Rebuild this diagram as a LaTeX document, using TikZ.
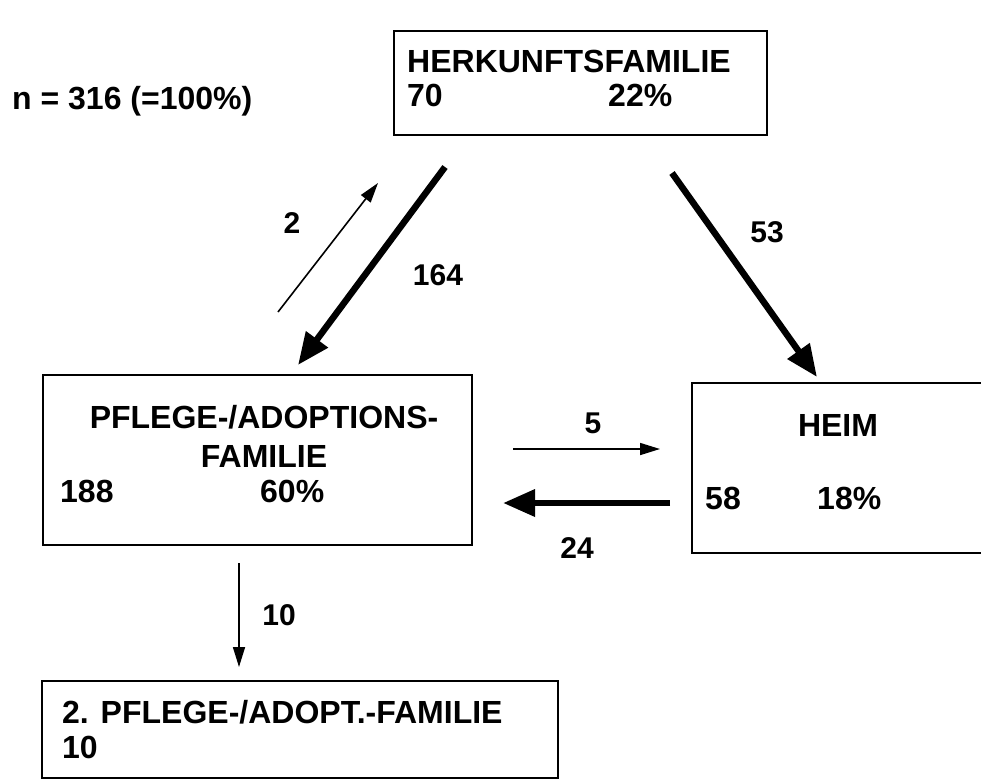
\documentclass[tikz,border=0pt]{standalone}
\usepackage{fontspec}
\setmainfont{Liberation Sans}
\usetikzlibrary{arrows.meta}
\tikzset{
    box/.style={draw=black,line width=2pt,rectangle,inner sep=0pt},
    txt/.style={font=\bfseries\fontsize{32}{36}\selectfont,inner sep=0pt},
    lbl/.style={font=\bfseries\fontsize{30}{34}\selectfont,inner sep=0pt},
    thinarr/.style={line width=1.6pt,-{Triangle[length=20pt,width=12pt]}},
    thickarr/.style={line width=6.5pt,-{Triangle[length=32pt,width=26pt]}}
}
\begin{document}
\begin{tikzpicture}[x=1pt,y=-1pt]
    \useasboundingbox (0,0) rectangle (981,780);
    \clip (0,0) rectangle (981,780);
    \fill[white] (0,0) rectangle (981,780);

    \node[box,minimum width=373pt,minimum height=104pt] (herkunft) at (580.5,83) {};
    \node[box,minimum width=429pt,minimum height=170pt] (pflege) at (257.5,460) {};
    \node[box,minimum width=320pt,minimum height=170pt] (heim) at (852,468) {};
    \node[box,minimum width=516pt,minimum height=97pt] (zweite) at (300,729.5) {};

    \node[txt,anchor=base west] (herkunfttitel) at (407,72) {HERKUNFTSFAMILIE};
    \node[txt,anchor=base west] (herkunftn) at (407,106) {70};
    \node[txt,anchor=base west] (herkunftp) at (608,106) {22\%};

    \node[txt,anchor=base] (pflegetitel) at (264,428) {PFLEGE-/ADOPTIONS-};
    \node[txt,anchor=base] (pflegetitelb) at (264,467) {FAMILIE};
    \node[txt,anchor=base west] (pflegen) at (60,502) {188};
    \node[txt,anchor=base west] (pflegep) at (260,502) {60\%};

    \node[txt,anchor=base] (heimtitel) at (838,436) {HEIM};
    \node[txt,anchor=base west] (heimn) at (705,509) {58};
    \node[txt,anchor=base west] (heimp) at (817,509) {18\%};

    \node[txt,anchor=base west] (zweitetitel) at (62,723) {2. PFLEGE-/ADOPT.-FAMILIE};
    \node[txt,anchor=base west] (zweiten) at (62,758) {10};

    \node[txt,anchor=west] (gesamt) at (12,101) {n = 316 (=100\%)};

    % Uebergaenge
    \coordinate (a1) at (445,167);
    \coordinate (a2) at (298,365);
    \coordinate (b1) at (278,312);
    \coordinate (b2) at (378,183);
    \coordinate (c1) at (672,173);
    \coordinate (c2) at (817,377);
    \coordinate (d1) at (513,449);
    \coordinate (d2) at (660,449);
    \coordinate (e1) at (670,503);
    \coordinate (e2) at (503,503);
    \coordinate (f1) at (239,563);
    \coordinate (f2) at (239,667);

    \draw[thickarr] (a1) -- (a2);
    \draw[thinarr] (b1) -- (b2);
    \draw[thickarr] (c1) -- (c2);
    \draw[thinarr] (d1) -- (d2);
    \draw[thickarr] (e1) -- (e2);
    \draw[thinarr] (f1) -- (f2);

    \node[lbl] (l164) at (438,275) {164};
    \node[lbl] (l2) at (292,223) {2};
    \node[lbl] (l53) at (767,232) {53};
    \node[lbl] (l5) at (593,423) {5};
    \node[lbl] (l24) at (577,548) {24};
    \node[lbl] (l10) at (279,615) {10};
\end{tikzpicture}
\end{document}
